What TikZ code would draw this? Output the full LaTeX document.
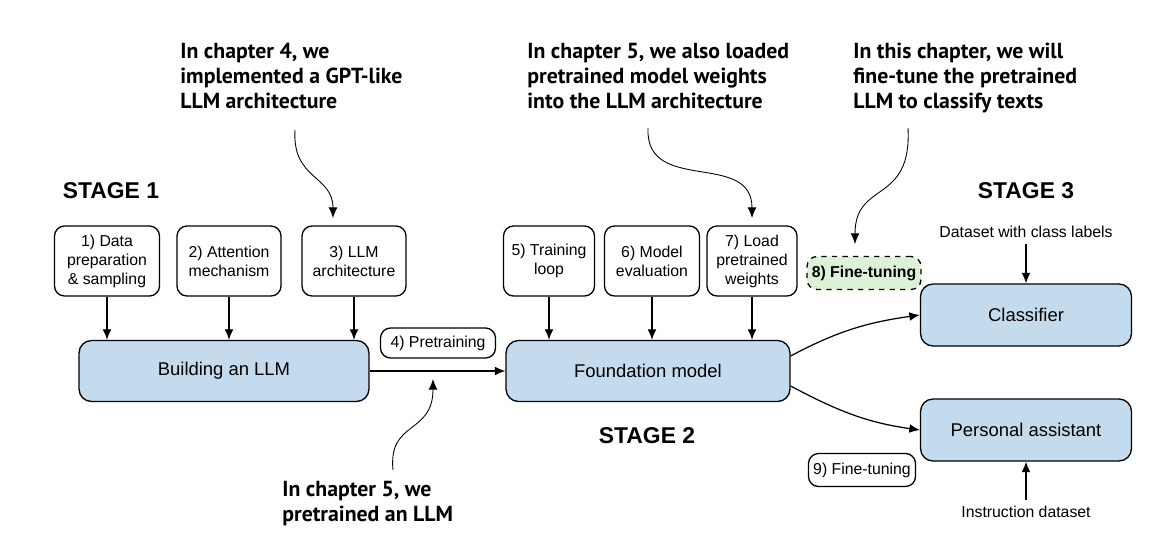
\documentclass[tikz,border=0pt]{standalone}
\usepackage{fontspec}
\setmainfont{Liberation Sans}
\newfontfamily\notefont{PT Sans}
\usetikzlibrary{arrows.meta}
\definecolor{boxblue}{HTML}{C4DBEE}
\definecolor{boxgreen}{HTML}{DCF1D6}
\tikzset{
  smallbox/.style={draw,line width=0.75pt,rounded corners=0.2cm,align=center,
    minimum height=1.4cm,inner sep=1pt,font=\fontsize{9}{10.8}\selectfont},
  mainbox/.style={draw,line width=0.75pt,fill=boxblue,rounded corners=0.25cm,
    minimum height=1.22cm,font=\fontsize{10.5}{12}\selectfont},
  tagbox/.style={draw,line width=0.75pt,rounded corners=0.2cm,inner sep=1pt,
    minimum height=0.6cm,font=\fontsize{9}{10.8}\selectfont},
  note/.style={align=left,anchor=north west,inner sep=0pt,
    font=\notefont\bfseries\fontsize{12.4}{14.2}\selectfont},
  stage/.style={font=\bfseries\fontsize{13}{15}\selectfont},
  plain/.style={font=\fontsize{9}{10.8}\selectfont},
  arr/.style={-{Latex[length=6pt,width=5pt]},line width=0.7pt},
  notearr/.style={-{Latex[length=6pt,width=5pt]},line width=0.5pt}
}
\begin{document}
\begin{tikzpicture}[x=0.02cm,y=-0.02cm]
\useasboundingbox (0,0) rectangle (1172,552);
% stage 1
\node[stage] (stage1) at (111,191) {STAGE 1};
\node[smallbox,minimum width=2.1cm] (prep) at (107,261) {1) Data\\preparation\\\& sampling};
\node[smallbox,minimum width=2.08cm] (attn) at (229,261) {2) Attention\\mechanism};
\node[smallbox,minimum width=2.08cm] (arch) at (354,261) {3) LLM\\architecture};
\node[mainbox,minimum width=5.8cm] (building) at (224,371) {Building an LLM};
\node[tagbox,minimum width=2.3cm] (pretrain) at (438,343) {4) Pretraining};
% stage 2
\node[stage] (stage2) at (647,436) {STAGE 2};
\node[smallbox,minimum width=1.82cm] (train) at (549,261) {5) Training\\loop};
\node[smallbox,minimum width=1.9cm] (evalm) at (652,261) {6) Model\\evaluation};
\node[smallbox,minimum width=1.8cm] (load) at (752,261) {7) Load\\pretrained\\weights};
\node[mainbox,minimum width=5.68cm] (foundation) at (648,371) {Foundation model};
% stage 3
\node[stage] (stage3) at (1026,191) {STAGE 3};
\node[tagbox,dashed,fill=boxgreen,minimum width=2.28cm,minimum height=0.66cm,
  font=\bfseries\fontsize{9}{10.8}\selectfont] (finetune) at (864,273) {8) Fine-tuning};
\node[tagbox,minimum width=2.14cm,minimum height=0.66cm] (finetuneb) at (862,470) {9) Fine-tuning};
\node[mainbox,minimum width=4.22cm,minimum height=1.24cm] (classifier) at (1026,315) {Classifier};
\node[mainbox,minimum width=4.22cm,minimum height=1.24cm] (assistant) at (1026,430) {Personal assistant};
\node[plain] (classdata) at (1026,232) {Dataset with class labels};
\node[plain] (instdata) at (1026,512) {Instruction dataset};
% notes
\node[note] (note4) at (180,43) {In chapter 4, we\\implemented a GPT-like\\LLM architecture};
\node[note] (note5) at (527,43) {In chapter 5, we also loaded\\pretrained model weights\\into the LLM architecture};
\node[note] (note6) at (853,43) {In this chapter, we will\\fine-tune the pretrained\\LLM to classify texts};
\node[note] (note5b) at (282,481) {In chapter 5, we\\pretrained an LLM};
\coordinate (n4end) at (333,218);
\coordinate (n5end) at (752,218);
\coordinate (n6end) at (855,244);
\coordinate (pend) at (433,379);
% connectors
\foreach \b in {prep,attn,arch}
  \draw[arr] (\b.south) -- (\b.south |- building.north);
\foreach \b in {train,evalm,load}
  \draw[arr] (\b.south) -- (\b.south |- foundation.north);
\draw[arr] (building.east) -- (foundation.west);
\draw[arr] ([yshift=0.3cm]foundation.east) to[out=28,in=188] (classifier.west);
\draw[arr] ([yshift=-0.3cm]foundation.east) to[out=-28,in=172] (assistant.west);
\draw[arr] (classdata.south) -- (classifier.north);
\draw[arr] (instdata.north) -- (assistant.south);
\draw[notearr] (295,130) .. controls (292,180) and (333,175) .. (n4end);
\draw[notearr] (648,128) .. controls (645,195) and (752,150) .. (n5end);
\draw[notearr] (908,128) .. controls (912,205) and (855,180) .. (n6end);
\draw[notearr] (393,470) .. controls (388,420) and (433,435) .. (pend);
\end{tikzpicture}
\end{document}
